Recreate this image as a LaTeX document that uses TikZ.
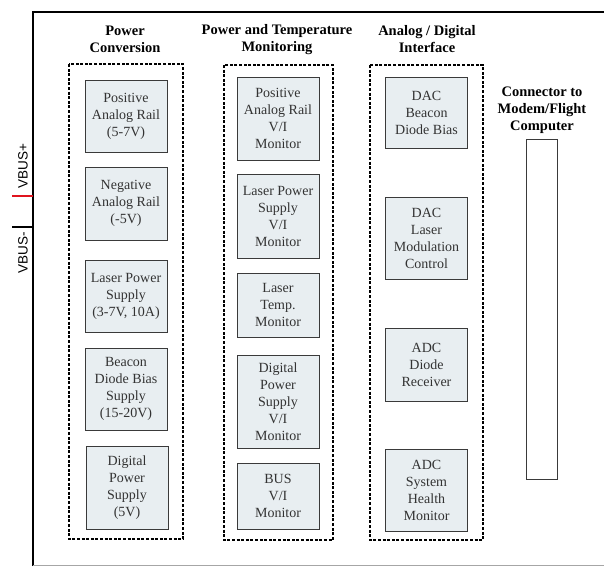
\documentclass[tikz,border=0pt]{standalone}
\usepackage{fontspec}
\setmainfont{Liberation Serif}
\setsansfont{Liberation Sans}
\usetikzlibrary{positioning}
\definecolor{BoxFill}{HTML}{E8EEF1}
\definecolor{BoxLine}{HTML}{3A3A3A}
\definecolor{TextGray}{HTML}{333333}
\definecolor{BusRed}{HTML}{E0141E}

\begin{document}
\begin{tikzpicture}[x=1pt, y=-1pt,
  block/.style={draw=BoxLine, fill=BoxFill, line width=1pt, text=TextGray, align=center, inner sep=0pt, minimum width=82pt, font=\fontsize{14}{17}\selectfont},
  group/.style={draw=black, line width=1.4pt, dash pattern=on 3pt off 1.6pt},
  heading/.style={align=center, font=\bfseries\fontsize{14.5}{17}\selectfont}]
  \useasboundingbox (0,0) rectangle (604,566);
  % Board outline
  \draw[line width=2.5pt] (33,566) -- (33,12) -- (604,12);
  \draw[black!35, line width=1pt] (33,565) -- (604,565);
  % Bus tabs
  \coordinate (vbp) at (33,196);
  \coordinate (vbm) at (33,227);
  \draw[BusRed, line width=2.5pt] (vbp) -- ++(-21,0);
  \draw[line width=2.5pt] (vbm) -- ++(-21,0);
  \node[rotate=90, font=\sffamily\fontsize{13.5}{15}\selectfont] (VBP) at (23,166) {VBUS+};
  \node[rotate=90, font=\sffamily\fontsize{13.5}{15}\selectfont] (VBM) at (23,253) {VBUS-};
  % Power Conversion
  \node[heading] (T1) at (125,39.5) {Power\\Conversion};
  \draw[group] (69,64) rectangle (183,539);
  \node[block, minimum height=72pt] (PAR) at (126,116) {Positive\\Analog Rail\\(5-7V)};
  \node[block, minimum height=73pt] (NAR) at (126,203.5) {Negative\\Analog Rail\\(-5V)};
  \node[block, minimum height=72pt] (LPS) at (126,296) {Laser Power\\Supply\\(3-7V, 10A)};
  \node[block, minimum height=82pt] (BDB) at (126,389) {Beacon\\Diode Bias\\Supply\\(15-20V)};
  \node[block, minimum height=83pt] (DPS) at (127,487.5) {Digital\\Power\\Supply\\(5V)};
  % Power and Temperature Monitoring
  \node[heading] (T2) at (277,39.5) {Power and Temperature\\Monitoring};
  \draw[group] (224,65) rectangle (333,540);
  \node[block, minimum height=83pt] (PAM) at (278,118.5) {Positive\\Analog Rail\\V/I\\Monitor};
  \node[block, minimum height=84pt] (LPM) at (278,216) {Laser Power\\Supply\\V/I\\Monitor};
  \node[block, minimum height=64pt] (LTM) at (278,305) {Laser\\Temp.\\Monitor};
  \node[block, minimum height=93pt] (DPM) at (278,401.5) {Digital\\Power\\Supply\\V/I\\Monitor};
  \node[block, minimum height=66pt] (BUM) at (278,496) {BUS\\V/I\\Monitor};
  % Analog / Digital Interface
  \node[heading] (T3) at (427,39.5) {Analog / Digital\\Interface};
  \draw[group] (370,65) rectangle (483,540);
  \node[block, minimum height=71pt] (DBD) at (426.5,112.5) {DAC\\Beacon\\Diode Bias};
  \node[block, minimum height=82pt] (DLM) at (426.5,238) {DAC\\Laser\\Modulation\\Control};
  \node[block, minimum height=73pt] (ADR) at (426.5,364.5) {ADC\\Diode\\Receiver};
  \node[block, minimum height=82pt] (ASH) at (426.5,490) {ADC\\System\\Health\\Monitor};
  % Connector
  \node[heading] (T4) at (542,110.5) {Connector to\\Modem/Flight\\Computer};
  \node[draw=BoxLine, line width=1pt, fill=white, minimum width=31pt, minimum height=340pt] (CON) at (541.5,309) {};
\end{tikzpicture}
\end{document}
